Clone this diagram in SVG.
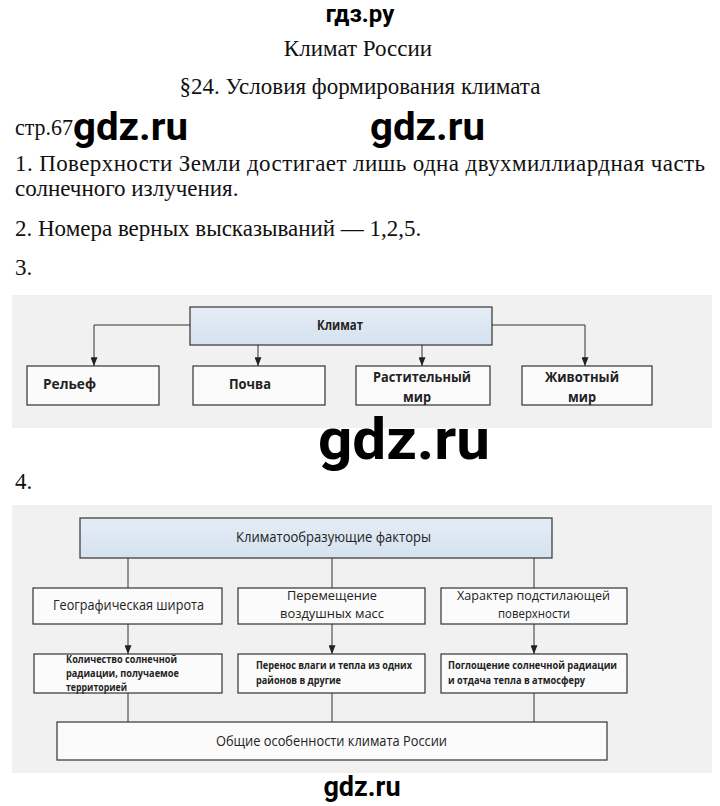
<svg xmlns="http://www.w3.org/2000/svg" width="720" height="806" viewBox="0 0 720 806">
<style>
.serif{font-family:"Liberation Serif","Times New Roman",serif;fill:#111;font-size:23px}
.wm{font-family:Roboto,"Liberation Sans",sans-serif;font-weight:bold;fill:#000}
.box{fill:#fbfbfb;stroke:#333;stroke-width:1.2}
.hbox{fill:url(#blue);stroke:#333;stroke-width:1.2}
.bg{fill:#f1f1f1}
.lbl{font-family:"Open Sans","Liberation Sans",sans-serif;fill:#222;font-size:14px}
.two{font-size:13px}
.b{font-weight:bold}
.sm{font-family:"Open Sans","Liberation Sans",sans-serif;fill:#222;font-size:11px;font-weight:bold}
.ln{fill:none;stroke:#333;stroke-width:1}
</style>
<defs>
<linearGradient id="blue" x1="0" y1="0" x2="0" y2="1">
<stop offset="0" stop-color="#e4ecf6"/>
<stop offset="1" stop-color="#d6e2f0"/>
</linearGradient>
<marker id="ad" viewBox="0 0 8 10" refX="4" refY="10" markerWidth="7" markerHeight="9" markerUnits="userSpaceOnUse" orient="0">
<path d="M0,0 L8,0 L4,10 Z" fill="#222"/>
</marker>
</defs>
<rect width="720" height="806" fill="#fff"/>

<g id="header">
<text x="360" y="22" text-anchor="middle" class="wm" font-size="24">гдз.ру</text>
<text x="358" y="56" text-anchor="middle" class="serif">Климат России</text>
<text x="360" y="94" text-anchor="middle" class="serif">§24. Условия формирования климата</text>
<text x="15" y="135" class="serif" font-size="21" textLength="58" lengthAdjust="spacingAndGlyphs">стр.67</text>
<text x="73" y="140" class="wm" font-size="38" textLength="115" lengthAdjust="spacingAndGlyphs">gdz.ru</text>
<text x="370" y="140" class="wm" font-size="38" textLength="115" lengthAdjust="spacingAndGlyphs">gdz.ru</text>
<text x="15" y="171" class="serif" textLength="690" lengthAdjust="spacing">1. Поверхности Земли достигает лишь одна двухмиллиардная часть</text>
<text x="15" y="196" class="serif">солнечного излучения.</text>
<text x="15" y="236" class="serif">2. Номера верных высказываний — 1,2,5.</text>
<text x="15" y="275" class="serif">3.</text>
<text x="15" y="489" class="serif">4.</text>
</g>

<rect class="bg" x="12" y="295" width="700" height="133"/>
<rect class="bg" x="12" y="505" width="700" height="268"/>

<g id="connectors">
<path class="ln" d="M190,325 H94 V366" marker-end="url(#ad)"/>
<path class="ln" d="M492,325 H585 V366" marker-end="url(#ad)"/>
<path class="ln" d="M258,345 V366" marker-end="url(#ad)"/>
<path class="ln" d="M422,345 V366" marker-end="url(#ad)"/>
<path class="ln" d="M128,558 V588"/>
<path class="ln" d="M332,558 V588"/>
<path class="ln" d="M534,558 V588"/>
<path class="ln" d="M128,624 V654" marker-end="url(#ad)"/>
<path class="ln" d="M332,624 V654" marker-end="url(#ad)"/>
<path class="ln" d="M534,624 V654" marker-end="url(#ad)"/>
<path class="ln" d="M128,693 V722"/>
<path class="ln" d="M332,693 V722"/>
<path class="ln" d="M534,693 V722"/>
</g>

<g id="klimat">
<rect class="hbox" x="190" y="307" width="302" height="38"/>
<text x="317" y="330" class="lbl b" font-size="13" textLength="46" lengthAdjust="spacingAndGlyphs">Климат</text>
</g>
<g id="relief">
<rect class="box" x="27" y="366" width="132" height="39"/>
<text x="43" y="389" class="lbl b" textLength="53" lengthAdjust="spacingAndGlyphs">Рельеф</text>
</g>
<g id="pochva">
<rect class="box" x="193" y="366" width="132" height="39"/>
<text x="229" y="389" class="lbl b" textLength="42" lengthAdjust="spacingAndGlyphs">Почва</text>
</g>
<g id="rast">
<rect class="box" x="356" y="366" width="134" height="39"/>
<text x="373" y="382" class="lbl b" textLength="98" lengthAdjust="spacingAndGlyphs">Растительный</text>
<text x="403" y="402" class="lbl b" textLength="28" lengthAdjust="spacingAndGlyphs">мир</text>
</g>
<g id="zhiv">
<rect class="box" x="522" y="366" width="130" height="39"/>
<text x="545" y="382" class="lbl b" textLength="74" lengthAdjust="spacingAndGlyphs">Животный</text>
<text x="568" y="402" class="lbl b" textLength="28" lengthAdjust="spacingAndGlyphs">мир</text>
</g>

<text x="404" y="459" text-anchor="middle" class="wm" font-size="58" textLength="172" lengthAdjust="spacingAndGlyphs">gdz.ru</text>

<g id="factors">
<rect class="hbox" x="80" y="518" width="472" height="40"/>
<text x="236" y="542" class="lbl" textLength="195" lengthAdjust="spacingAndGlyphs">Климатообразующие факторы</text>
</g>
<g id="geo">
<rect class="box" x="33" y="588" width="189" height="36"/>
<text x="53" y="610" class="lbl" textLength="151" lengthAdjust="spacingAndGlyphs">Географическая широта</text>
</g>
<g id="move">
<rect class="box" x="238" y="588" width="187" height="36"/>
<text x="332" y="600" text-anchor="middle" class="lbl two" textLength="90" lengthAdjust="spacingAndGlyphs">Перемещение</text>
<text x="332" y="618" text-anchor="middle" class="lbl two" textLength="104" lengthAdjust="spacingAndGlyphs">воздушных масс</text>
</g>
<g id="harakter">
<rect class="box" x="441" y="588" width="186" height="36"/>
<text x="457" y="600" class="lbl two" textLength="153" lengthAdjust="spacingAndGlyphs">Характер подстилающей</text>
<text x="498" y="618" class="lbl two" textLength="72" lengthAdjust="spacingAndGlyphs">поверхности</text>
</g>
<g id="kolvo">
<rect class="box" x="34" y="654" width="188" height="39"/>
<text x="66" y="663" class="sm" textLength="111" lengthAdjust="spacingAndGlyphs">Количество солнечной</text>
<text x="66" y="677" class="sm" textLength="113" lengthAdjust="spacingAndGlyphs">радиации, получаемое</text>
<text x="66" y="691" class="sm" textLength="61" lengthAdjust="spacingAndGlyphs">территорией</text>
</g>
<g id="perenos">
<rect class="box" x="238" y="654" width="187" height="39"/>
<text x="256" y="669" class="sm" textLength="156" lengthAdjust="spacingAndGlyphs">Перенос влаги и тепла из одних</text>
<text x="256" y="684" class="sm" textLength="85" lengthAdjust="spacingAndGlyphs">районов в другие</text>
</g>
<g id="poglosh">
<rect class="box" x="441" y="654" width="186" height="39"/>
<text x="448" y="669" class="sm" textLength="169" lengthAdjust="spacingAndGlyphs">Поглощение солнечной радиации</text>
<text x="448" y="684" class="sm" textLength="137" lengthAdjust="spacingAndGlyphs">и отдача тепла в атмосферу</text>
</g>
<g id="obshie">
<rect class="box" x="57" y="722" width="550" height="38"/>
<text x="216" y="746" class="lbl" textLength="231" lengthAdjust="spacingAndGlyphs">Общие особенности климата России</text>
</g>

<text x="362" y="796" text-anchor="middle" class="wm" font-size="27">gdz.ru</text>
</svg>
